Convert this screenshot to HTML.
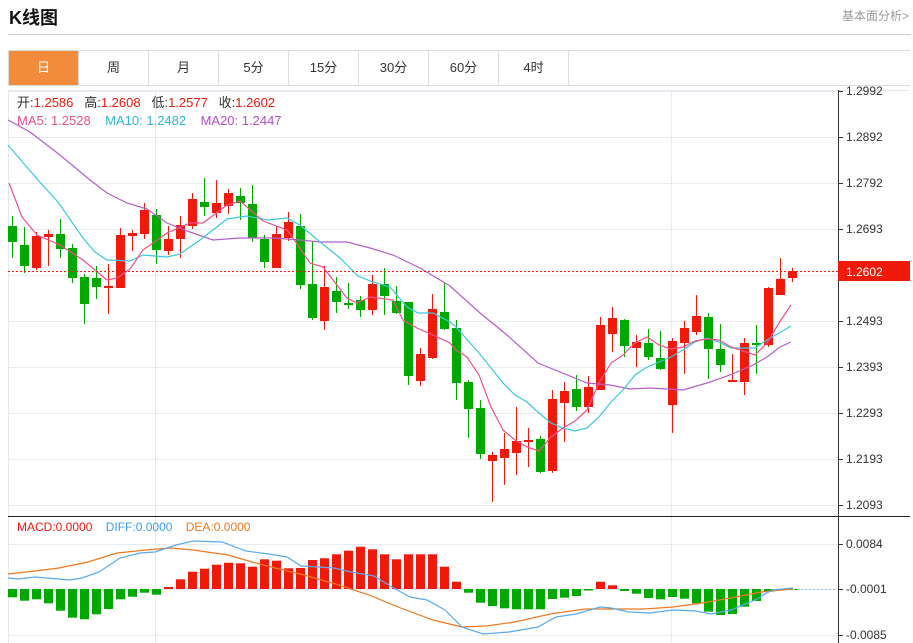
<!DOCTYPE html>
<html><head><meta charset="utf-8"><style>
body{margin:0;width:913px;height:643px;overflow:hidden;background:#fff;font-family:"Liberation Sans","Noto Sans CJK SC",sans-serif;position:relative}
.t{position:absolute;left:9px;top:4px;font-size:18px;font-weight:bold;color:#111}
.r{position:absolute;right:4px;top:7px;font-size:12px;color:#999}
.hl{position:absolute;left:8px;top:34px;width:903px;height:1px;background:#ccc}
.tabs{position:absolute;left:8px;top:50px;height:36px;display:flex;border:1px solid #ddd;border-right:none;width:902px;box-sizing:border-box}
.tabs div{width:70px;border-right:1px solid #ddd;box-sizing:border-box;text-align:center;line-height:34px;font-size:13px;color:#333}
.tabs div.a{background:#f28c3c;color:#fff}
svg{position:absolute;left:0;top:0}
</style></head><body>
<div class="t">K线图</div><div class="r">基本面分析&gt;</div><div class="hl"></div>
<div class="tabs"><div class="a">日</div><div>周</div><div>月</div><div>5分</div><div>15分</div><div>30分</div><div>60分</div><div>4时</div></div>
<svg id="s" width="913" height="643" font-family="Liberation Sans, Noto Sans CJK SC, sans-serif"></svg>
<script>
var s='';
function L(x1,y1,x2,y2,c,w,d){s+='<line x1="'+x1+'" y1="'+y1+'" x2="'+x2+'" y2="'+y2+'" stroke="'+c+'" stroke-width="'+(w||1)+'"'+(d?' stroke-dasharray="'+d+'"':'')+'/>';}
function T(x,y,t,c,sz){s+='<text x="'+x+'" y="'+y+'" fill="'+c+'" font-size="'+(sz||12)+'">'+t+'</text>';}
function P(pts,c,w){s+='<polyline fill="none" stroke="'+c+'" stroke-width="'+(w||1.2)+'" points="'+pts.map(function(p){return p.join(',')}).join(' ')+'"/>';}
L(8,90.5,910,90.5,'#e3e9ef');L(8.5,90,8.5,643,'#e3e9ef');
var ty=[91,137,183,229,275,321,367,413,459,505],tl=['1.2992','1.2892','1.2792','1.2693','','1.2493','1.2393','1.2293','1.2193','1.2093'];
ty.forEach(function(y,i){L(8,y+.5,838,y+.5,'#e6ebf0');if(tl[i]){L(838,y+.5,843,y+.5,'#333');T(846,y+4,tl[i],'#333');}});
L(155.5,90,155.5,643,'#e6ebf0');L(671.5,90,671.5,643,'#e6ebf0');
[544,589,635].forEach(function(y){L(8,y+.5,838,y+.5,'#e6ebf0');});
L(8,516.5,910,516.5,'#222');L(838.5,90,838.5,643,'#333');
[[544,'0.0084'],[589,'-0.0001'],[635,'-0.0085']].forEach(function(a){L(838,a[0]+.5,843,a[0]+.5,'#333');T(846,a[0]+4,a[1],'#333');});
var C=[['G',226,242,216,258],['G',245,266,227,273],['R',236,268,232,270],['R',234,237,230,266],['G',234,249,219,258],['G',248,278,244,283],['G',277,304,274,324],['G',278,287,266,299],['R',286,288,264,314],['R',235,288,228,288],['R',233,236,230,251],['R',210,234,203,239],['G',215,250,209,264],['R',239,251,226,255],['R',225,239,216,258],['R',199,226,193,229],['G',202,207,178,216],['R',203,213,180,218],['R',193,206,189,214],['G',196,203,188,220],['G',204,238,185,242],['G',239,262,235,268],['R',234,268,226,268],['R',222,238,212,241],['G',226,285,214,289],['G',284,318,241,320],['R',287,321,266,330],['G',291,302,277,313],['G',303,305,283,309],['G',300,310,296,317],['R',284,310,275,315],['G',284,296,268,315],['G',301,313,286,314],['G',302,376,302,385],['R',354,381,348,386],['R',309,358,294,359],['G',312,329,283,330],['G',328,383,320,400],['G',382,409,380,438],['G',408,454,400,459],['R',455,461,452,502],['R',449,458,433,485],['R',441,453,407,475],['R',440,442,428,467],['G',439,472,436,473],['R',399,471,390,473],['R',391,403,382,442],['G',389,407,375,411],['R',387,407,376,413],['R',325,390,317,390],['R',318,334,307,352],['G',320,346,319,357],['R',342,348,335,367],['G',343,357,329,360],['G',358,369,331,370],['R',341,405,338,433],['R',328,343,321,374],['R',316,332,295,335],['G',317,349,313,379],['G',349,365,324,372],['R',380,381,354,381],['R',343,382,338,395],['G',343,345,325,374],['R',288,345,287,347],['R',279,295,258,295],['R',271,278,268,282]];
C.forEach(function(c,i){var x=12+12*i,col=c[0]=='R'?'#f01a0a':'#00a800';L(x+.5,c[3],x+.5,c[4],col);s+='<rect x="'+(x-4)+'" y="'+c[1]+'" width="9" height="'+Math.max(2,c[2]-c[1])+'" fill="'+col+'"/>';});
P([[8,120],[30,132],[60,155],[90,180],[107,193],[127,203],[147,209],[167,223],[190,232],[213,240],[240,238],[273,238],[300,240],[320,242],[347,242],[370,248],[393,255],[420,268],[450,286],[480,313],[507,335],[538,363],[560,372],[587,383],[610,385],[630,389],[650,388],[683,390],[707,383],[730,375],[753,365],[767,357],[780,347],[791,342]],'#b45fc8');
P([[8,145],[25,165],[38,180],[47,190],[58,202],[83,238],[95,252],[107,260],[130,261],[143,255],[167,257],[180,254],[200,240],[227,219],[247,216],[267,220],[287,218],[300,225],[320,242],[340,258],[358,276],[373,282],[390,287],[407,307],[418,313],[433,313],[450,322],[456,327],[479,353],[503,383],[515,395],[527,402],[539,413],[551,423],[563,428],[575,431],[587,428],[599,417],[611,402],[623,390],[635,375],[647,367],[659,362],[671,357],[683,350],[695,342],[707,338],[719,342],[731,348],[755,348],[767,340],[779,333],[791,326]],'#3cc8dc');
P([[9,183],[22,217],[37,235],[60,245],[83,260],[107,280],[117,278],[130,269],[143,250],[167,233],[190,223],[203,223],[227,205],[240,201],[263,221],[287,230],[293,238],[310,263],[323,267],[333,280],[347,298],[357,303],[370,297],[393,300],[403,320],[417,328],[433,335],[450,343],[456,350],[467,357],[479,375],[491,407],[503,430],[515,440],[527,447],[539,451],[551,437],[563,428],[575,421],[587,410],[599,383],[611,363],[623,355],[635,343],[647,337],[659,345],[671,349],[683,347],[695,341],[707,339],[719,340],[731,347],[743,351],[755,355],[767,343],[779,323],[791,305]],'#f0508a');
L(8,271.5,838,271.5,'#f01a0a',1,'2,2');
s+='<rect x="838" y="261" width="72" height="20" fill="#f01a0a"/>';T(846,276,'1.2602','#fff');
var H=[597.3,600.7,599.3,603.3,610.7,617.7,619.3,614.3,609,599.3,596.7,592.7,594.7,587,579.3,571.7,568.7,564.7,562.7,563.3,566.7,559.3,560.7,568.3,568,560,558.3,554.3,550.7,546.7,549.3,554.3,559.3,554.3,554.3,554.3,566.7,581.7,592.7,602.7,606,608.3,609.3,609.3,609.3,599,597.7,596,590.5,581.7,585.3,591,593.7,598,599.3,597,598.7,603.3,611.7,615,614,606.7,601,591.7,590.3,590];
H.forEach(function(v,i){var x=12+12*i;if(v<589)s+='<rect x="'+(x-4)+'" y="'+v+'" width="9" height="'+(589-v)+'" fill="#f01a0a"/>';else s+='<rect x="'+(x-4)+'" y="589" width="9" height="'+(v-589)+'" fill="#00a800"/>';});
P([[8,574],[35,571],[59,568],[88,562],[117,553],[146,550],[170,548],[193,550],[228,555],[252,562],[275,568],[304,575],[339,585],[369,595],[398,607],[433,620],[462,627],[486,626],[515,622],[550,614],[585,609],[644,609],[673,607],[702,603],[731,598],[761,592],[793,589]],'#f07820');
P([[8,578],[18,579],[35,577],[70,580],[82,578],[99,572],[120,558],[140,553],[155,552],[176,545],[193,541],[222,542],[246,551],[269,554],[287,557],[301,566],[334,568],[351,572],[374,576],[392,587],[410,597],[427,600],[445,610],[462,627],[483,634],[509,632],[538,627],[556,617],[576,614],[600,607],[611,608],[629,612],[650,613],[673,610],[696,611],[711,614],[731,610],[755,600],[772,590],[793,588]],'#5aabec');
L(793,589.5,838,589.5,'#8cc8f0',1,'2,2');
s+='<text x="17" y="107" font-size="13" fill="#333" xml:space="preserve">开:<tspan fill="#f01a0a">1.2586</tspan>   高:<tspan fill="#f01a0a">1.2608</tspan>   低:<tspan fill="#f01a0a">1.2577</tspan>   收:<tspan fill="#f01a0a">1.2602</tspan></text>';
s+='<text x="17" y="125" font-size="13" xml:space="preserve"><tspan fill="#e8508a">MA5: 1.2528</tspan>    <tspan fill="#2bb8d0">MA10: 1.2482</tspan>    <tspan fill="#b050c0">MA20: 1.2447</tspan></text>';
s+='<text x="17" y="531" font-size="12" xml:space="preserve"><tspan fill="#f01a0a">MACD:0.0000</tspan>    <tspan fill="#3c9ee8">DIFF:0.0000</tspan>    <tspan fill="#f07820">DEA:0.0000</tspan></text>';
document.getElementById('s').innerHTML=s;
</script>
</body></html>
